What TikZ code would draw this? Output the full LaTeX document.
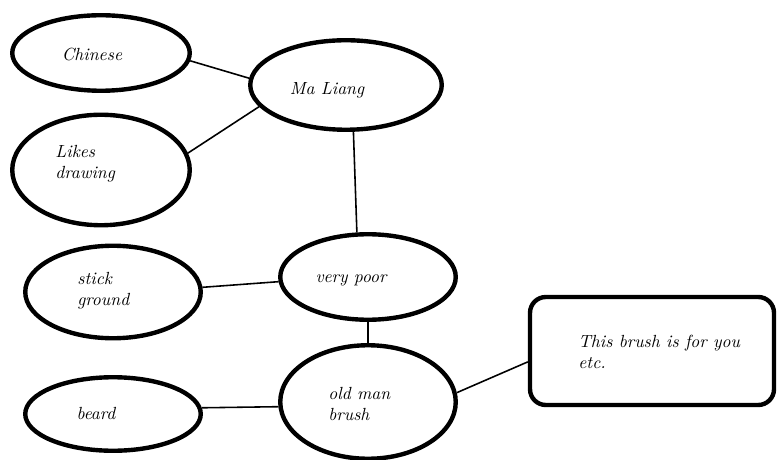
\documentclass[tikz,border=0pt]{standalone}
\usepackage{tikz}
\usetikzlibrary{shapes.geometric,calc}

\tikzset{
  bubble/.style={draw,ellipse,line width=2.5pt,inner sep=0pt},
  card/.style={draw,rectangle,rounded corners=9pt,line width=2.5pt,inner sep=0pt},
  word/.style={font=\itshape,align=left,inner sep=0pt},
  link/.style={line width=0.9pt}
}

\begin{document}
\begin{tikzpicture}
  \useasboundingbox (0,0) rectangle (15.54,9.18);
  % the bubbles
  \node[bubble,minimum width=3.55cm,minimum height=1.51cm] (chinese) at (2.02,8.12){};
  \node[bubble,minimum width=3.83cm,minimum height=1.79cm] (maliang) at (6.92,7.48){};
  \node[bubble,minimum width=3.55cm,minimum height=2.21cm] (likes) at (2.02,5.78){};
  \node[bubble,minimum width=3.51cm,minimum height=1.71cm] (poor) at (7.36,3.64){};
  \node[bubble,minimum width=3.51cm,minimum height=1.85cm] (stick) at (2.26,3.34){};
  \node[bubble,minimum width=3.51cm,minimum height=2.27cm] (oldman) at (7.36,1.14){};
  \node[bubble,minimum width=3.51cm,minimum height=1.47cm] (beard) at (2.26,0.90){};
  \node[card,minimum width=4.88cm,minimum height=2.16cm] (brushbox) at (13.04,2.16){};
  % the words
  \node[word] (tchinese) at (1.84,8.08){Chinese};
  \node[word] (tmaliang) at (6.54,7.38){Ma Liang};
  \node[word,anchor=west] (tlikes) at (1.10,5.90){Likes\\drawing};
  \node[word,anchor=west] (tstick) at (1.54,3.36){stick\\ground};
  \node[word] (tpoor) at (7.02,3.58){very poor};
  \node[word,anchor=west] (toldman) at (6.56,1.10){old man\\brush};
  \node[word] (tbeard) at (1.92,0.92){beard};
  \node[word,anchor=west] (tbrush) at (11.56,2.14){This brush is for you\\etc.};
  % the links
  \draw[link] (chinese.-5)--(maliang.176);
  \draw[link] (likes.11)--(maliang.-166);
  \draw[link] (maliang.-81)--(poor.104);
  \draw[link] (stick.3)--(poor.183);
  \draw[link] (poor.south)--(oldman.north);
  \draw[link] (beard.4)--(oldman.183);
  \draw[link] (oldman.6)--(brushbox.185);
\end{tikzpicture}
\end{document}
